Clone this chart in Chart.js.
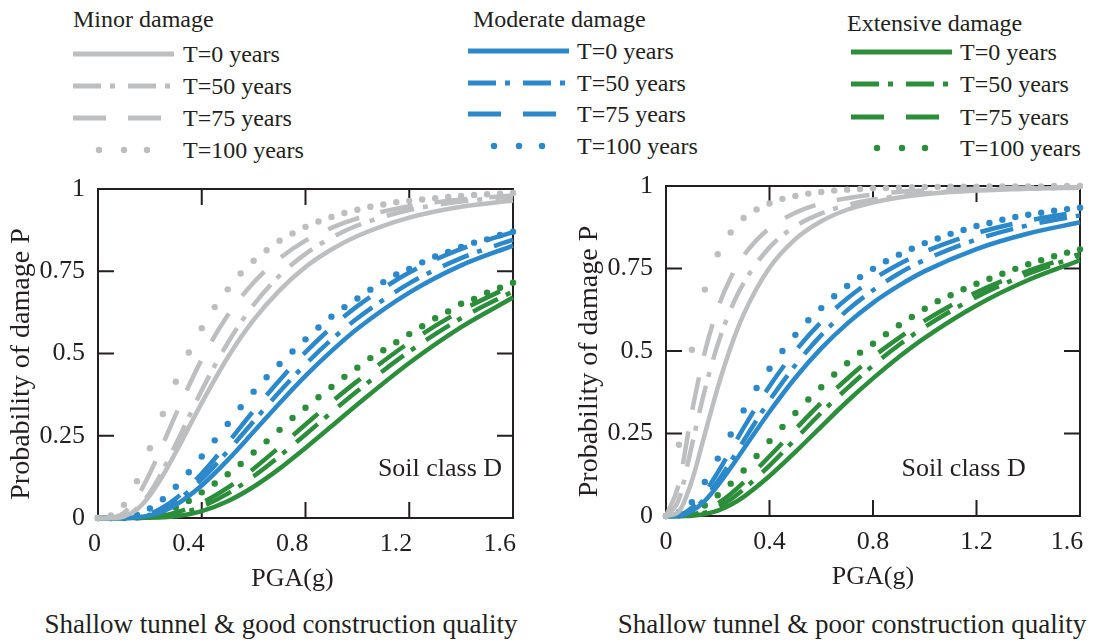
<!DOCTYPE html>
<html>
<head>
<meta charset="utf-8">
<script src="https://cdn.jsdelivr.net/npm/chart.js@4.4.0/dist/chart.umd.min.js"></script>
<style>
body{margin:0;background:#fff;width:1101px;height:640px;overflow:hidden;position:relative;font-family:"Liberation Serif","Times New Roman",serif;color:#231f20}
.txt{position:absolute;white-space:nowrap;font-size:24px;line-height:24px}
.cap{position:absolute;white-space:nowrap;font-size:27px;line-height:27px;transform:translateX(-50%)}
canvas,svg{position:absolute}
</style>
</head>
<body>
<div id="legend"></div>
<canvas id="good" width="560" height="440" style="left:0px;top:160px"></canvas>
<canvas id="poor" width="533" height="440" style="left:568px;top:157px"></canvas>
<div class="cap" style="left:281px;top:611px">Shallow tunnel &amp; good construction quality</div>
<div class="cap" style="left:852px;top:611px">Shallow tunnel &amp; poor construction quality</div>
<script>
// x positions (PGA in g)
const xLine=[0,0.05,0.1,0.15,0.2,0.25,0.3,0.4,0.5,0.6,0.7,0.8,0.9,1.0,1.2,1.4,1.6]
const xDot=[0,0.05,0.1,0.15,0.2,0.25,0.3,0.35,0.4,0.45,0.5,0.55,0.6,0.65,0.7,0.75,0.8,0.85,0.9,0.95,1.0,1.05,1.1,1.15,1.2,1.25,1.3,1.35,1.4,1.45,1.5,1.55,1.6]

const xTicks=[0,0.4,0.8,1.2,1.6]
const goodXTickLabels=['0','0.4','0.8','1.2','1.6']
const poorXTickLabels=['0','0.4','0.8','1.2','1.6\u2002\u2002']
const yTicks=[0,0.25,0.5,0.75,1]
const yTickLabels=['0','0.25','0.5','0.75','1']

const stateNames=['Minor damage','Moderate damage','Extensive damage']
const periodNames=['T=0 years','T=50 years','T=75 years','T=100 years']

// good construction quality
const goodMinorT0=[0,0,0.005,0.026,0.069,0.129,0.200,0.350,0.488,0.602,0.692,0.763,0.816,0.857,0.913,0.946,0.965]
const goodMinorT50=[0,0,0.005,0.029,0.077,0.145,0.224,0.388,0.532,0.648,0.737,0.803,0.852,0.889,0.936,0.962,0.977]
const goodMinorT75=[0,0.001,0.016,0.063,0.136,0.224,0.315,0.482,0.616,0.716,0.789,0.843,0.882,0.911,0.948,0.968,0.980]
const goodMinorT100=[0,0.008,0.04,0.112,0.212,0.316,0.414,0.503,0.577,0.641,0.695,0.743,0.782,0.814,0.843,0.865,0.885,0.901,0.915,0.927,0.937,0.946,0.953,0.96,0.964,0.968,0.972,0.976,0.979,0.982,0.984,0.986,0.988]
const goodModerateT0=[0,0,0,0.002,0.008,0.020,0.040,0.099,0.176,0.262,0.349,0.432,0.507,0.575,0.685,0.768,0.828]
const goodModerateT50=[0,0,0,0.003,0.011,0.027,0.050,0.118,0.203,0.294,0.384,0.467,0.542,0.607,0.713,0.790,0.846]
const goodModerateT75=[0,0,0,0.004,0.013,0.032,0.059,0.135,0.228,0.326,0.419,0.504,0.579,0.644,0.746,0.818,0.869]
const goodModerateT100=[0,0,0.002,0.01,0.029,0.057,0.095,0.139,0.187,0.236,0.286,0.337,0.384,0.428,0.468,0.506,0.543,0.579,0.612,0.641,0.667,0.694,0.717,0.74,0.757,0.777,0.795,0.809,0.824,0.837,0.847,0.86,0.87]
const goodExtensiveT0=[0,0,0,0,0.001,0.002,0.005,0.021,0.051,0.095,0.150,0.213,0.279,0.345,0.471,0.580,0.670]
const goodExtensiveT50=[0,0,0,0,0.002,0.005,0.011,0.035,0.074,0.127,0.188,0.254,0.321,0.386,0.506,0.607,0.689]
const goodExtensiveT75=[0,0,0,0.001,0.003,0.007,0.016,0.046,0.092,0.150,0.216,0.284,0.352,0.416,0.533,0.630,0.708]
const goodExtensiveT100=[0,0,0,0.002,0.007,0.017,0.031,0.052,0.078,0.105,0.133,0.164,0.199,0.233,0.268,0.304,0.335,0.367,0.398,0.429,0.457,0.486,0.51,0.534,0.559,0.583,0.607,0.628,0.651,0.666,0.685,0.7,0.715]

// poor construction quality
const poorMinorT0=[0,0.014,0.107,0.248,0.389,0.511,0.611,0.752,0.839,0.893,0.928,0.950,0.965,0.975,0.986,0.992,0.995]
const poorMinorT50=[0,0.051,0.214,0.382,0.520,0.626,0.706,0.814,0.878,0.917,0.942,0.959,0.970,0.978,0.987,0.992,0.995]
const poorMinorT75=[0,0.098,0.315,0.497,0.629,0.722,0.789,0.872,0.919,0.947,0.963,0.974,0.982,0.986,0.992,0.995,0.997]
const poorMinorT100=[0,0.216,0.504,0.686,0.793,0.859,0.903,0.929,0.947,0.961,0.97,0.977,0.982,0.986,0.989,0.991,0.993,0.994,0.995,0.996,0.997,0.997,0.998,0.998,0.998,0.999,0.999,0.999,0.999,0.999,1,1,1]
const poorModerateT0=[0,0.001,0.015,0.046,0.092,0.146,0.203,0.316,0.419,0.508,0.583,0.646,0.698,0.742,0.809,0.856,0.890]
const poorModerateT50=[0,0.001,0.017,0.053,0.105,0.165,0.228,0.350,0.457,0.548,0.623,0.684,0.735,0.776,0.838,0.881,0.911]
const poorModerateT75=[0,0.003,0.025,0.071,0.132,0.199,0.267,0.393,0.500,0.588,0.659,0.717,0.763,0.801,0.857,0.895,0.922]
const poorModerateT100=[0,0.012,0.042,0.103,0.174,0.247,0.32,0.388,0.446,0.50,0.549,0.593,0.63,0.666,0.697,0.724,0.749,0.772,0.792,0.81,0.827,0.841,0.855,0.867,0.879,0.888,0.898,0.906,0.913,0.919,0.925,0.93,0.934]
const poorExtensiveT0=[0,0,0.001,0.006,0.016,0.034,0.058,0.121,0.194,0.271,0.347,0.417,0.482,0.540,0.638,0.715,0.775]
const poorExtensiveT50=[0,0,0.002,0.010,0.027,0.050,0.081,0.153,0.233,0.313,0.387,0.456,0.518,0.573,0.664,0.734,0.789]
const poorExtensiveT75=[0,0,0.004,0.016,0.038,0.067,0.102,0.181,0.263,0.343,0.416,0.482,0.540,0.592,0.678,0.743,0.794]
const poorExtensiveT100=[0,0.002,0.012,0.032,0.063,0.098,0.138,0.182,0.227,0.27,0.312,0.353,0.39,0.429,0.463,0.495,0.522,0.551,0.578,0.603,0.628,0.651,0.669,0.687,0.704,0.719,0.734,0.749,0.763,0.775,0.787,0.798,0.808]

const ink='#231f20'
const stateColors=['#bdbec0','#2b88ca','#2c8e3a']
const periodDash=[[],[28,9,5,13],[33,22],null]
const serif='"Liberation Serif", "Times New Roman", serif'

// legend layout
const legendTitleX=[73,473,847]
const legendTitleTop=[7,7,11]
const legendLineX=[73,468,851]
const legendTextX=[183,577,960]
const legendRowY=[[54,86,118,150],[51,83,114,146],[52,84,117,148]]

function addText(parent,text,x,top){
    const d=document.createElement('div')
    d.className='txt'
    d.textContent=text
    d.style.left=x+'px'
    d.style.top=top+'px'
    parent.appendChild(d)
}

function legendSample(parent,color,dash,x,y){
    const ns='http://www.w3.org/2000/svg'
    const svg=document.createElementNS(ns,'svg')
    svg.setAttribute('width',102)
    svg.setAttribute('height',12)
    svg.style.left=x+'px'
    svg.style.top=(y-6)+'px'
    if(dash===null){
        [26,51,74].forEach(cx=>{
            const c=document.createElementNS(ns,'circle')
            c.setAttribute('cx',cx);c.setAttribute('cy',6);c.setAttribute('r',3.2)
            c.setAttribute('fill',color)
            svg.appendChild(c)
        })
    }else{
        const l=document.createElementNS(ns,'line')
        l.setAttribute('x1',0);l.setAttribute('y1',6);l.setAttribute('x2',101);l.setAttribute('y2',6)
        l.setAttribute('stroke',color);l.setAttribute('stroke-width',5)
        if(dash.length) l.setAttribute('stroke-dasharray',dash.join(' '))
        svg.appendChild(l)
    }
    parent.appendChild(svg)
}

function buildLegend(){
    const legend=document.getElementById('legend')
    stateNames.forEach((name,i)=>{
        addText(legend,name,legendTitleX[i],legendTitleTop[i])
        periodNames.forEach((p,j)=>{
            const y=legendRowY[i][j]
            legendSample(legend,stateColors[i],periodDash[j],legendLineX[i],y)
            addText(legend,p,legendTextX[i],y+8-20)
        })
    })
}

// box and inward ticks on all four sides, plus the soil note
const framePlugin={
    id:'frame',
    beforeDatasetsDraw(chart,args,opts){
        const {ctx,chartArea:a,scales:{x,y}}=chart
        ctx.save()
        ctx.strokeStyle=ink
        ctx.lineWidth=2
        ctx.strokeRect(a.left,a.top,a.right-a.left,a.bottom-a.top)
        ctx.beginPath()
        xTicks.slice(1,-1).forEach(v=>{
            const px=x.getPixelForValue(v)
            ctx.moveTo(px,a.bottom);ctx.lineTo(px,a.bottom-16)
            ctx.moveTo(px,a.top);ctx.lineTo(px,a.top+16)
        })
        yTicks.slice(1,-1).forEach(v=>{
            const py=y.getPixelForValue(v)
            ctx.moveTo(a.left,py);ctx.lineTo(a.left+16,py)
            ctx.moveTo(a.right,py);ctx.lineTo(a.right-16,py)
        })
        ctx.stroke()
        ctx.fillStyle=ink
        ctx.font='26px '+serif
        ctx.textAlign='right'
        ctx.textBaseline='alphabetic'
        ctx.fillText(opts.text,x.getPixelForValue(opts.x),y.getPixelForValue(opts.y))
        ctx.restore()
    }
}

function makeDatasets(groups){
    const datasets=[]
    groups.forEach((group,i)=>{
        group.forEach((ys,j)=>{
            if(periodDash[j]===null){
                datasets.push({
                    data:xDot.map((x,k)=>({x:x,y:ys[k]})),
                    showLine:false,
                    pointRadius:3.2,
                    pointBorderWidth:0,
                    pointBackgroundColor:stateColors[i],
                    clip:false
                })
            }else{
                datasets.push({
                    data:xLine.map((x,k)=>({x:x,y:ys[k]})),
                    borderColor:stateColors[i],
                    borderWidth:4.5,
                    borderDash:periodDash[j],
                    borderCapStyle:'butt',
                    pointRadius:0,
                    cubicInterpolationMode:'monotone',
                    fill:false,
                    clip:false
                })
            }
        })
    })
    return datasets
}

function makeChart(id,groups,note,pad,ax){
    Chart.defaults.font.family=serif
    Chart.defaults.color=ink
    const tickFont={size:26,family:serif}
    return new Chart(document.getElementById(id),{
        type:'line',
        data:{datasets:makeDatasets(groups)},
        plugins:[framePlugin],
        options:{
            responsive:false,
            animation:false,
            devicePixelRatio:1,
            layout:{padding:pad},
            plugins:{legend:{display:false},tooltip:{enabled:false},frame:note},
            scales:{
                x:{
                    type:'linear',min:0,max:1.6,
                    afterBuildTicks:s=>{s.ticks=xTicks.map(v=>({value:v}))},
                    afterFit:s=>{s.height=80;s.paddingLeft=0;s.paddingRight=0},
                    grid:{display:false,drawTicks:false},
                    border:{display:false},
                    ticks:{font:tickFont,color:ink,padding:11,maxRotation:0,autoSkip:false,
                        align:ax.align,labelOffset:ax.offset,
                        callback:v=>ax.labels[xTicks.indexOf(v)]},
                    title:{display:true,text:ax.title,font:tickFont,color:ink,padding:{top:0,bottom:3}}
                },
                y:{
                    type:'linear',min:0,max:1,
                    afterBuildTicks:s=>{s.ticks=yTicks.map(v=>({value:v}))},
                    afterFit:s=>{s.width=98;s.paddingTop=0;s.paddingBottom=0},
                    grid:{display:false,drawTicks:false},
                    border:{display:false},
                    ticks:{font:tickFont,color:ink,padding:13,autoSkip:false,
                        callback:v=>yTickLabels[yTicks.indexOf(v)]},
                    title:{display:true,text:'Probability of damage P\u2002 ',font:{size:28,family:serif},color:ink,padding:{top:5,bottom:0}}
                }
            }
        }
    })
}

buildLegend()
makeChart('good',[
    [goodMinorT0,goodMinorT50,goodMinorT75,goodMinorT100],
    [goodModerateT0,goodModerateT50,goodModerateT75,goodModerateT100],
    [goodExtensiveT0,goodExtensiveT50,goodExtensiveT75,goodExtensiveT100]
],{text:'Soil class D',x:1.558,y:0.128},{top:29,right:47,bottom:2,left:0},
{labels:goodXTickLabels,align:'end',offset:3,title:'PGA(g)\u2002\u2002'})
makeChart('poor',[
    [poorMinorT0,poorMinorT50,poorMinorT75,poorMinorT100],
    [poorModerateT0,poorModerateT50,poorModerateT75,poorModerateT100],
    [poorExtensiveT0,poorExtensiveT50,poorExtensiveT75,poorExtensiveT100]
],{text:'Soil class D',x:1.39,y:0.121},{top:29,right:21,bottom:1,left:0},
{labels:poorXTickLabels,align:'center',offset:0,title:'PGA(g)'})
</script>
</body>
</html>
